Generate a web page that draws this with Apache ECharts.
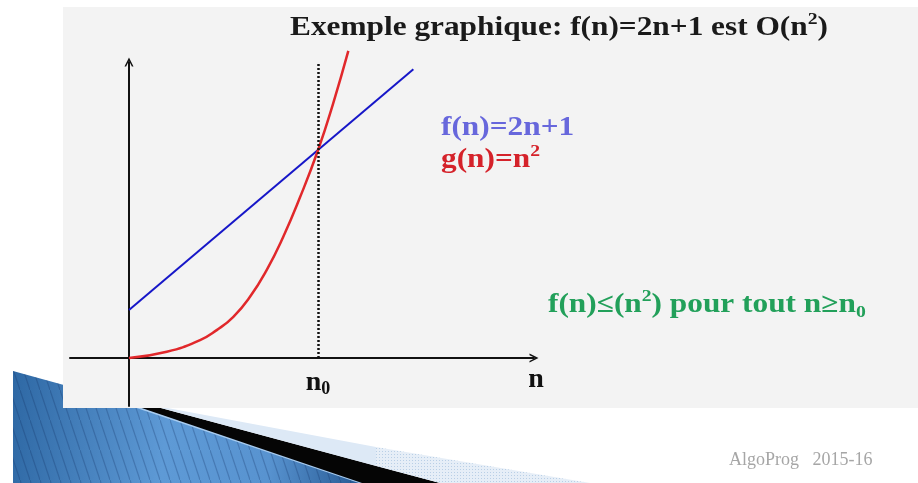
<!DOCTYPE html>
<html>
<head>
<meta charset="utf-8">
<script src="https://cdn.jsdelivr.net/npm/echarts@6/dist/echarts.min.js"></script>
<style>
  html, body { margin: 0; padding: 0; background: #ffffff; }
  #chart { width: 918px; height: 483px; }
</style>
</head>
<body>
<div id="chart"></div>
<script>
// Axis extents (n on the horizontal axis, function value on the vertical axis)
const nRange = [-1.56, 10.71];
const valueRange = [-2.3, 14.2];

// f(n) = 2n + 1 : a straight line
const fN = [0, 7.52];
const fValues = [2.3, 13.85];

// g(n) = n^2 : the quadratic curve
const gN = [0, 1.0, 1.88, 2.32, 2.76, 3.20, 3.64, 4.08, 4.52, 5.0, 5.40, 5.80];
const gValues = [0, 0.30, 0.86, 1.34, 1.98, 2.94, 4.22, 5.82, 7.70, 9.98, 12.22, 14.73];

// threshold n0 where g overtakes f, and the top of its dotted guide
const n0 = 5.0;
const n0GuideTop = 14.16;

// texts
const titleText = '{a|Exemple graphique: f(n)=2n+1 est O(n}{s|2}{a|)}';
const fLabel = '{a|f(n)=2n+1}';
const gLabel = '{a|g(n)=n}{s|2}';
const claimText = '{a|f(n)≤(n}{s|2}{a|) pour tout n≥n}{d|0}';
const footerText = 'AlgoProg   2015-16';
const axisName = 'n';

const SERIF = "'Liberation Serif', 'Times New Roman', serif";
const TEXT_SIZE = 27;
const TEXT_STRETCH = 1.16;

function pairs(xs, ys) { return xs.map((x, i) => [x, ys[i]]); }

// hatching used on the blue corner ribbon
function hatchPattern() {
  const c = document.createElement('canvas');
  c.width = 10; c.height = 30;
  const ctx = c.getContext('2d');
  ctx.strokeStyle = 'rgba(18,48,96,0.28)';
  ctx.lineWidth = 1.2;
  ctx.beginPath();
  ctx.moveTo(-1, -3); ctx.lineTo(11, 33);
  ctx.stroke();
  return c;
}
function dotPattern() {
  const c = document.createElement('canvas');
  c.width = 3; c.height = 3;
  const ctx = c.getContext('2d');
  ctx.fillStyle = '#e6eef7';
  ctx.fillRect(0, 0, 3, 3);
  ctx.fillStyle = '#b9cfe6';
  ctx.fillRect(1, 1, 1, 1);
  return c;
}

function richStyle(size, color) {
  const small = Math.round(size * 0.62);
  return {
    a: { fontFamily: SERIF, fontWeight: 'bold', fontSize: size, lineHeight: size + 6, fill: color, color: color, verticalAlign: 'middle' },
    s: { fontFamily: SERIF, fontWeight: 'bold', fontSize: small, lineHeight: small, fill: color, color: color, verticalAlign: 'top' },
    d: { fontFamily: SERIF, fontWeight: 'bold', fontSize: small, lineHeight: small, fill: color, color: color, verticalAlign: 'bottom' }
  };
}

// slide text block, slightly widened to the look of the slide typeface
function slideText(x, y, text, color) {
  return {
    type: 'text', z: 10, silent: true,
    x: x, y: y, scaleX: TEXT_STRETCH, scaleY: 1,
    style: { x: 0, y: 0, text: text, verticalAlign: 'middle', align: 'left', rich: richStyle(TEXT_SIZE, color) }
  };
}

const ARROW = 'path://M0,10 L5,0 L10,10 L8.2,10 L5,3.6 L1.8,10 Z';

const chart = echarts.init(document.getElementById('chart'), null, { renderer: 'canvas' });

const option = {
  backgroundColor: '#ffffff',
  animation: false,
  grid: {
    left: 70, right: 384, top: 62, bottom: 77,
    containLabel: false, outerBoundsMode: 'none'
  },
  xAxis: {
    type: 'value',
    min: nRange[0], max: nRange[1],
    axisLine: {
      onZero: true,
      symbol: ['none', ARROW],
      symbolSize: [10, 9],
      lineStyle: { color: '#111111', width: 2 }
    },
    axisTick: { show: false },
    axisLabel: { show: false },
    splitLine: { show: false },
    name: axisName,
    nameLocation: 'end',
    nameGap: 2,
    nameTextStyle: {
      fontFamily: SERIF, fontWeight: 'bold', fontSize: 28, color: '#111111',
      align: 'center', verticalAlign: 'top', padding: [8, 0, 0, 0]
    }
  },
  yAxis: {
    type: 'value',
    min: valueRange[0], max: valueRange[1],
    axisLine: {
      onZero: true,
      symbol: ['none', ARROW],
      symbolSize: [10, 9],
      lineStyle: { color: '#111111', width: 2 }
    },
    axisTick: { show: false },
    axisLabel: { show: false },
    splitLine: { show: false }
  },
  series: [
    {
      name: 'f(n)',
      type: 'line',
      data: pairs(fN, fValues),
      symbol: 'none',
      lineStyle: { color: '#1616c8', width: 2 },
      z: 3
    },
    {
      name: 'g(n)',
      type: 'line',
      data: pairs(gN, gValues),
      smooth: 0.5,
      symbol: 'none',
      clip: false,
      lineStyle: { color: '#e1282b', width: 2.5 },
      z: 4,
      markLine: {
        silent: true,
        symbol: ['none', 'none'],
        lineStyle: { color: '#111111', type: [2, 2], width: 2.5 },
        label: {
          show: true,
          position: 'start',
          distance: 10,
          formatter: '{a|n}{d|0}',
          rich: {
            a: { fontFamily: SERIF, fontWeight: 'bold', fontSize: 28, color: '#111111', lineHeight: 30, verticalAlign: 'middle' },
            d: { fontFamily: SERIF, fontWeight: 'bold', fontSize: 18, color: '#111111', lineHeight: 18, verticalAlign: 'bottom' }
          }
        },
        data: [[{ coord: [n0, 0] }, { coord: [n0, n0GuideTop] }]]
      }
    }
  ],
  graphic: [
    // blue corner ribbon (sits behind the grey panel)
    {
      type: 'polygon', z: -30, silent: true,
      shape: { points: [[13, 371], [140, 406], [362, 483], [13, 483]] },
      style: {
        fill: { type: 'linear', x: 0, y: 0, x2: 1, y2: 0.3, colorStops: [
          { offset: 0, color: '#2e68a4' }, { offset: 0.45, color: '#5e9ad6' },
          { offset: 0.75, color: '#5893d0' }, { offset: 1, color: '#2a5e98' }] }
      }
    },
    {
      type: 'polygon', z: -29, silent: true,
      shape: { points: [[13, 371], [140, 406], [362, 483], [13, 483]] },
      style: { fill: { image: hatchPattern(), repeat: 'repeat' } }
    },
    {
      type: 'polyline', z: -28, silent: true,
      shape: { points: [[128, 404], [362, 483]] },
      style: { stroke: '#a7cbef', lineWidth: 2, fill: null }
    },
    {
      type: 'polygon', z: -27, silent: true,
      shape: { points: [[130, 404], [146, 404], [440, 483], [362, 483]] },
      style: { fill: '#050505' }
    },
    {
      type: 'polygon', z: -27, silent: true,
      shape: { points: [[146, 404], [376, 447], [376, 466]] },
      style: { fill: '#dde9f6' }
    },
    {
      type: 'polygon', z: -27, silent: true,
      shape: { points: [[376, 447], [590, 483], [440, 483], [376, 466]] },
      style: { fill: { image: dotPattern(), repeat: 'repeat' } }
    },
    // grey slide panel
    {
      type: 'rect', z: -20, silent: true,
      shape: { x: 63, y: 7, width: 855, height: 401 },
      style: { fill: '#f3f3f3' }
    },
    // heading
    slideText(290, 28, titleText, '#1a1a1a'),
    // curve names
    slideText(441, 128, fLabel, '#6767dc'),
    slideText(441, 160, gLabel, '#d5222a'),
    // inequality statement
    slideText(548, 305, claimText, '#22a05a'),
    // footer
    {
      type: 'text', z: 10, silent: true,
      style: { x: 729, y: 460, text: footerText, verticalAlign: 'middle', align: 'left',
        font: "18px 'Liberation Serif', serif", fill: '#a6a6a6' }
    }
  ]
};

chart.setOption(option);
</script>
</body>
</html>
